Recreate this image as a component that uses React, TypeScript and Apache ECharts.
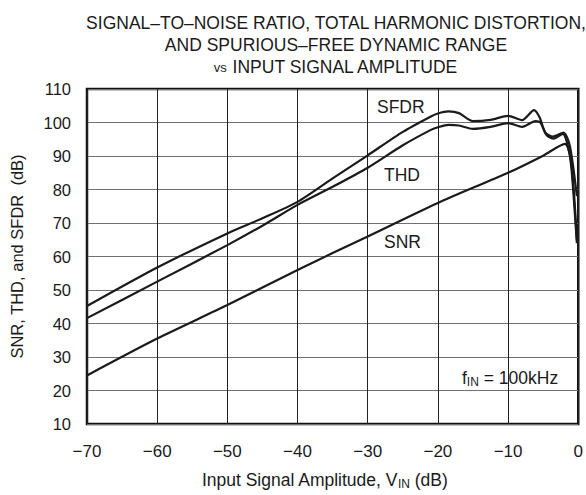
import React, { useEffect, useRef } from "react";
import * as echarts from "echarts";

const xTicks = [-70, -60, -50, -40, -30, -20, -10, 0];
const yTicks = [10, 20, 30, 40, 50, 60, 70, 80, 90, 100, 110];

const snr: [number, number][] = [
  [-70, 24.5], [-60, 35.5], [-50, 45.5], [-40, 56], [-30, 66], [-20, 76],
  [-10, 85], [-5, 90.1], [-1.9, 93.6], [-1.0, 88], [-0.2, 65],
];

const thd: [number, number][] = [
  [-70, 41.6], [-60, 52.5], [-50, 63.4], [-45, 69.2], [-40, 75.4], [-35, 80.8], [-30, 86.5],
  [-25, 93.2], [-21, 97.8], [-20, 98.6], [-18.5, 99.3], [-17, 99.1], [-15, 98.1],
  [-12.5, 98.7], [-10, 99.8], [-8, 98.7], [-6.1, 100.4], [-5.4, 100.0], [-4.5, 96.2],
  [-3.5, 95.2], [-2.2, 96.6], [-1.5, 93.2], [-1.0, 87], [-0.2, 64],
];

const sfdr: [number, number][] = [
  [-70, 45.2], [-60, 56.7], [-50, 66.9], [-45, 71.4], [-40, 76.3], [-35, 83.3], [-30, 90.2],
  [-25, 97.2], [-21, 101.8], [-20, 102.7], [-18.5, 103.3], [-17, 102.8], [-15, 100.4],
  [-12.5, 100.8], [-10, 102.0], [-8, 100.7], [-6.3, 103.7], [-5.5, 101.5], [-4.7, 97.0],
  [-3.6, 95.8], [-2.1, 97.0], [-1.2, 93.0], [-0.2, 78],
];

const FONT = "Liberation Sans, Arial, sans-serif";
const INK = "#1a1a1a";

export default function App() {
  const ref = useRef<HTMLDivElement>(null);
  useEffect(() => {
    if (!ref.current) return;
    const chart = echarts.init(ref.current, null, { renderer: "svg" });
    const lineStyle = { color: INK, width: 2.2 };
    const mk = (name: string, data: [number, number][]) => ({
      name,
      type: "line",
      data,
      showSymbol: false,
      symbol: "none",
      lineStyle,
      smooth: 0.25,
      z: 5,
    });
    chart.setOption({
      animation: false,
      backgroundColor: "#ffffff",
      textStyle: { fontFamily: FONT },
      title: {
        text:
          "SIGNAL–TO–NOISE RATIO, TOTAL HARMONIC DISTORTION,\nAND SPURIOUS–FREE DYNAMIC RANGE\n{s|vs} INPUT SIGNAL AMPLITUDE",
        left: 331,
        textAlign: "center",
        top: 7,
        textStyle: {
          fontFamily: FONT,
          fontSize: 17.5,
          fontWeight: "normal",
          color: INK,
          lineHeight: 22,
          rich: {
            s: { fontSize: 13, fontFamily: FONT, color: INK, lineHeight: 22 },
          },
        },
      },
      grid: {
        left: 84,
        right: 7,
        top: 89,
        bottom: 71,
        show: true,
        borderColor: "#111",
        borderWidth: 2.5,
        containLabel: false,
      },
      xAxis: {
        type: "value",
        min: xTicks[0],
        max: xTicks[xTicks.length - 1],
        interval: 10,
        axisLine: { show: false },
        axisTick: { show: false },
        axisLabel: {
          margin: 19,
          fontSize: 17,
          color: INK,
          fontFamily: FONT,
          formatter: (v: number) => (v < 0 ? "\u2212" + Math.abs(v) : String(v)),
        },
        splitLine: { show: true, lineStyle: { color: "#222", width: 1 } },
        name: "Input Signal Amplitude, V{sub|IN} (dB)",
        nameLocation: "middle",
        nameGap: 46,
        nameTextStyle: {
          fontSize: 17.5,
          color: INK,
          fontFamily: FONT,
          padding: [0, 16, 0, 0],
          rich: {
            sub: { fontSize: 12, color: INK, fontFamily: FONT, padding: [8, 0, 0, 0] },
          },
        },
      },
      yAxis: {
        type: "value",
        min: yTicks[0],
        max: yTicks[yTicks.length - 1],
        interval: 10,
        axisLine: { show: false },
        axisTick: { show: false },
        axisLabel: { margin: 16, fontSize: 16.5, color: INK, fontFamily: FONT },
        splitLine: { show: true, lineStyle: { color: "#707070", width: 1 } },
        name: "SNR, THD, and SFDR  (dB)",
        nameLocation: "middle",
        nameGap: 62,
        nameTextStyle: { fontSize: 16.5, color: INK, fontFamily: FONT },
      },
      series: [mk("SNR", snr), mk("THD", thd), mk("SFDR", sfdr)],
      graphic: [
        { type: "text", left: 377, top: 98, style: { text: "SFDR", fontSize: 17.5, fill: INK, fontFamily: FONT } },
        { type: "text", left: 384, top: 166, style: { text: "THD", fontSize: 17.5, fill: INK, fontFamily: FONT } },
        { type: "text", left: 384, top: 233, style: { text: "SNR", fontSize: 17.5, fill: INK, fontFamily: FONT } },
        {
          type: "text",
          left: 462,
          top: 368,
          style: {
            text: "f{sub|IN} = 100kHz",
            fontSize: 17.5,
            fill: INK,
            fontFamily: FONT,
            backgroundColor: "#ffffff",
            rich: { sub: { fontSize: 12, fill: INK, fontFamily: FONT, padding: [8, 0, 0, 0] } },
          },
        },
      ],
    });
    return () => chart.dispose();
  }, []);
  return (
    <div
      ref={ref}
      style={{ position: "fixed", left: 0, top: 0, width: 586, height: 495, background: "#fff" }}
    />
  );
}
